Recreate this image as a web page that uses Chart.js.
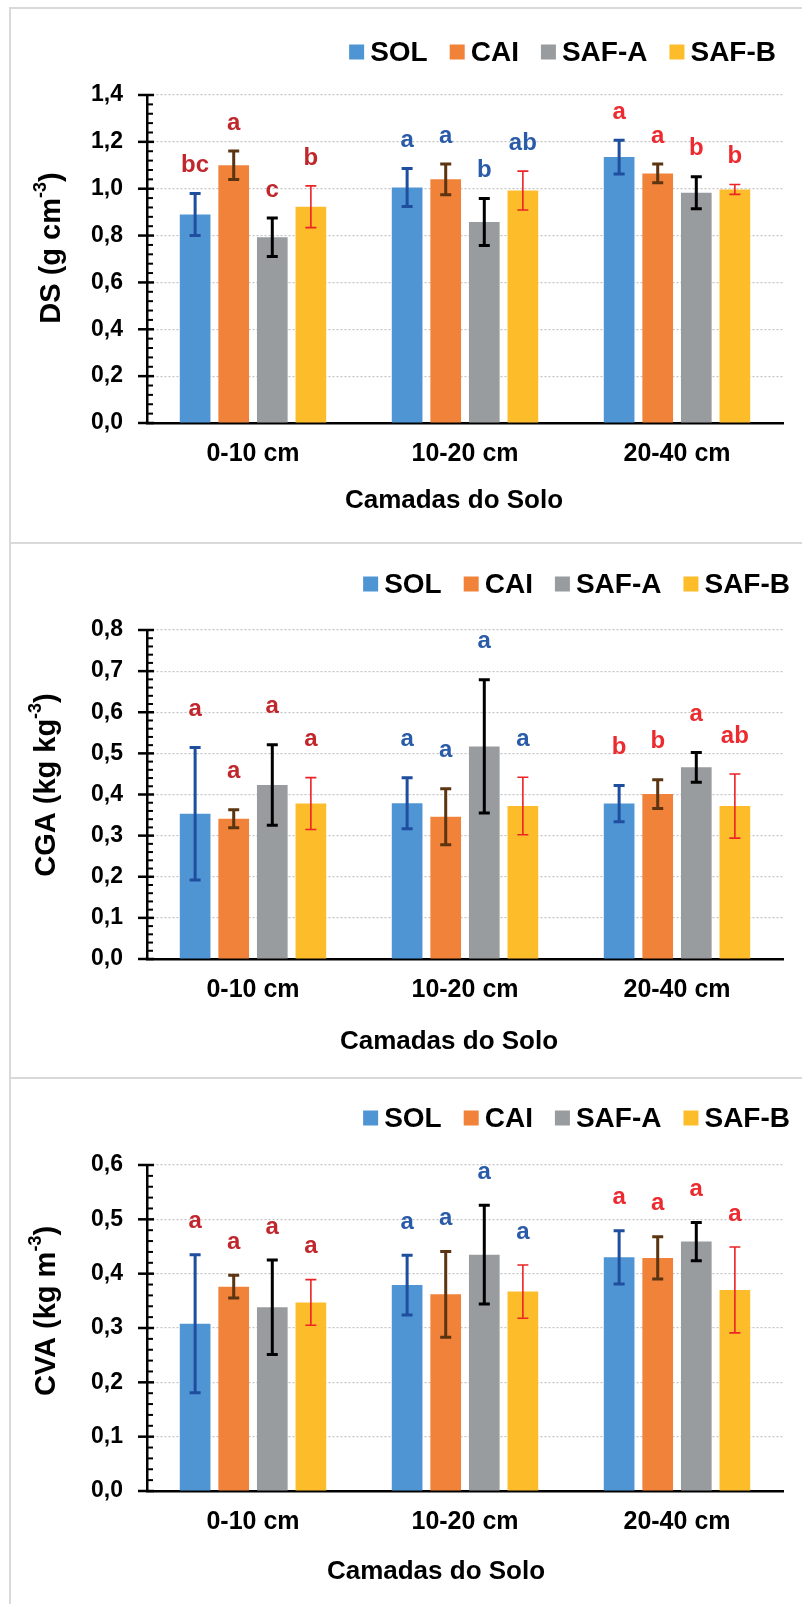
<!DOCTYPE html>
<html>
<head>
<meta charset="utf-8">
<script src="https://cdn.jsdelivr.net/npm/chart.js@4"></script>
<style>
  body { margin: 0; background: #fff; }
  #wrap { position: relative; width: 802px; height: 1604px; overflow: hidden; }
  .line { position: absolute; background: #d9d9d9; }
  canvas { position: absolute; left: 0; }
</style>
</head>
<body>
<div id="wrap">
  <div class="line" style="left:9px;top:7px;width:793px;height:2px"></div>
  <div class="line" style="left:9px;top:7px;width:2px;height:1597px"></div>
  <div class="line" style="left:9px;top:542px;width:793px;height:2px"></div>
  <div class="line" style="left:9px;top:1077px;width:793px;height:2px"></div>
  <canvas id="chartDS"  width="802" height="532" style="top:10px"></canvas>
  <canvas id="chartCGA" width="802" height="532" style="top:545px"></canvas>
  <canvas id="chartCVA" width="802" height="524" style="top:1080px"></canvas>
</div>

<script>
// camadas e sistemas
const layers  = ['0-10 cm', '10-20 cm', '20-40 cm'];
const systems = ['SOL', 'CAI', 'SAF-A', 'SAF-B'];

// DS (g cm-3) — médias, desvio e letras (SOL, CAI, SAF-A, SAF-B)
const dsMean    = [[0.890, 1.005, 1.135], [1.100, 1.040, 1.065], [0.793, 0.858, 0.983], [0.923, 0.992, 0.997]];
const dsErr     = [[0.090, 0.081, 0.072], [0.061, 0.066, 0.040], [0.082, 0.100, 0.068], [0.089, 0.083, 0.021]];
const dsLetters = [['bc', 'a', 'a'], ['a', 'a', 'a'], ['c', 'b', 'b'], ['b', 'ab', 'b']];
const dsTicks   = [0, 0.2, 0.4, 0.6, 0.8, 1.0, 1.2, 1.4];

// CGA (kg kg-3)
const cgaMean    = [[0.353, 0.379, 0.378], [0.341, 0.346, 0.401], [0.423, 0.517, 0.466], [0.378, 0.372, 0.372]];
const cgaErr     = [[0.161, 0.062, 0.044], [0.022, 0.068, 0.035], [0.098, 0.162, 0.036], [0.063, 0.070, 0.078]];
const cgaLetters = [['a', 'a', 'b'], ['a', 'a', 'b'], ['a', 'a', 'a'], ['a', 'a', 'ab']];
const cgaTicks   = [0, 0.1, 0.2, 0.3, 0.4, 0.5, 0.6, 0.7, 0.8];

// CVA (kg m-3)
const cvaMean    = [[0.308, 0.379, 0.430], [0.376, 0.362, 0.429], [0.338, 0.435, 0.459], [0.347, 0.367, 0.370]];
const cvaErr     = [[0.127, 0.055, 0.049], [0.021, 0.079, 0.039], [0.087, 0.091, 0.035], [0.042, 0.049, 0.079]];
const cvaLetters = [['a', 'a', 'a'], ['a', 'a', 'a'], ['a', 'a', 'a'], ['a', 'a', 'a']];
const cvaTicks   = [0, 0.1, 0.2, 0.3, 0.4, 0.5, 0.6];

// cores
const barColors    = ['#4f95d3', '#f0823a', '#999c9e', '#fdbd2a'];
const errColors    = ['#1f4e9f', '#5b3411', '#000000', '#ec2327'];
const errWidths    = [3, 3, 3, 1.6];
const letterColors = ['#c0272d', '#2a5ba8', '#eb2b30'];

const FONT = "'Liberation Sans', Arial, sans-serif";
const PLOT_LEFT = 147, PLOT_TOP = 85, PLOT_RIGHT = 783;

const fmt = v => v.toFixed(1).replace('.', ',');

// desenha legenda, barras de erro, letras, marcas do eixo y e títulos
function panelPlugin(p) {
    return {
        id: 'panel',
        afterDatasetsDraw(chart) {
            const ctx = chart.ctx;
            const y = chart.scales.y;
            const area = chart.chartArea;

            // marcas do eixo y (principais cruzam o eixo, secundárias para dentro)
            ctx.save();
            ctx.strokeStyle = '#000';
            const vals = p.ticks;
            for (let k = 0; k < vals.length; k++) {
                const py = y.getPixelForValue(vals[k]);
                ctx.lineWidth = 2.5;
                ctx.beginPath();
                ctx.moveTo(area.left - 9, py);
                ctx.lineTo(area.left + 7, py);
                ctx.stroke();
                if (k < vals.length - 1) {
                    const step = (vals[k + 1] - vals[k]) / 5;
                    ctx.lineWidth = 2;
                    for (let m = 1; m < 5; m++) {
                        const my = y.getPixelForValue(vals[k] + step * m);
                        ctx.beginPath();
                        ctx.moveTo(area.left, my);
                        ctx.lineTo(area.left + 6, my);
                        ctx.stroke();
                    }
                }
            }
            ctx.restore();

            // barras de erro e letras
            chart.data.datasets.forEach((ds, d) => {
                const meta = chart.getDatasetMeta(d);
                meta.data.forEach((bar, i) => {
                    const v = ds.data[i], e = p.errors[d][i];
                    const yTop = y.getPixelForValue(v + e);
                    const yBot = y.getPixelForValue(v - e);
                    ctx.save();
                    ctx.strokeStyle = errColors[d];
                    ctx.lineWidth = errWidths[d];
                    ctx.beginPath();
                    ctx.moveTo(bar.x, yTop); ctx.lineTo(bar.x, yBot);
                    ctx.moveTo(bar.x - 5.5, yTop); ctx.lineTo(bar.x + 5.5, yTop);
                    ctx.moveTo(bar.x - 5.5, yBot); ctx.lineTo(bar.x + 5.5, yBot);
                    ctx.stroke();

                    ctx.fillStyle = letterColors[i];
                    ctx.font = 'bold 24px ' + FONT;
                    ctx.textAlign = 'center';
                    ctx.textBaseline = 'middle';
                    ctx.fillText(p.letters[d][i], bar.x, yTop - p.letterGap);
                    ctx.restore();
                });
            });

            // legenda
            ctx.save();
            ctx.font = 'bold 28px ' + FONT;
            ctx.textBaseline = 'middle';
            ctx.textAlign = 'left';
            const widths = systems.map(s => ctx.measureText(s).width);
            const total = widths.reduce((a, w) => a + 15 + 6 + w, 0) + 22 * (systems.length - 1);
            let x = p.legendRight - total;
            systems.forEach((s, i) => {
                ctx.fillStyle = barColors[i];
                ctx.fillRect(x, p.legendY - 7.5, 15, 15);
                ctx.fillStyle = '#000';
                ctx.fillText(s, x + 21, p.legendY + 1);
                x += 21 + widths[i] + 22;
            });
            ctx.restore();

            // título do eixo y (com expoente)
            ctx.save();
            ctx.translate(p.yTitleX, p.yTitleY);
            ctx.rotate(-Math.PI / 2);
            ctx.fillStyle = '#000';
            ctx.textBaseline = 'middle';
            ctx.textAlign = 'left';
            const big = 'bold 29px ' + FONT, small = 'bold 18px ' + FONT;
            ctx.font = big;   const w1 = ctx.measureText(p.yTitle[0]).width;
            ctx.font = small; const w2 = ctx.measureText(p.yTitle[1]).width;
            ctx.font = big;   const w3 = ctx.measureText(p.yTitle[2]).width;
            let tx = -(w1 + w2 + w3) / 2;
            ctx.font = big;   ctx.fillText(p.yTitle[0], tx, 0); tx += w1;
            ctx.font = small; ctx.fillText(p.yTitle[1], tx, -11); tx += w2;
            ctx.font = big;   ctx.fillText(p.yTitle[2], tx, 0);
            ctx.restore();

            // título do eixo x
            ctx.save();
            ctx.fillStyle = '#000';
            ctx.font = 'bold 26px ' + FONT;
            ctx.textAlign = 'center';
            ctx.textBaseline = 'middle';
            ctx.fillText('Camadas do Solo', p.xTitleX, p.xTitleY);
            ctx.restore();
        }
    };
}

function makeChart(id, means, p) {
    const canvas = document.getElementById(id);
    const plotBottom = p.plotBottom;
    return new Chart(canvas, {
        type: 'bar',
        data: {
            labels: layers,
            datasets: systems.map((s, i) => ({
                label: s,
                data: means[i],
                backgroundColor: barColors[i],
                borderWidth: 0,
                barPercentage: 0.795,
                categoryPercentage: 0.728,
            }))
        },
        options: {
            responsive: false,
            animation: false,
            layout: { padding: { top: PLOT_TOP, left: 0, right: 802 - PLOT_RIGHT, bottom: 0 } },
            plugins: { legend: { display: false }, tooltip: { enabled: false } },
            scales: {
                x: {
                    grid: { display: false, drawTicks: false },
                    border: { display: true, color: '#000', width: 2.5 },
                    ticks: { color: '#000', padding: 16, font: { family: FONT, size: 25, weight: 'bold' } },
                    afterFit(s) { s.height = canvas.height - plotBottom; }
                },
                y: {
                    min: 0,
                    max: p.ticks[p.ticks.length - 1],
                    grid: { color: '#c4c4c4', lineWidth: 1.2, drawTicks: false },
                    border: { display: true, color: '#000', width: 2.5, dash: [2, 2] },
                    ticks: {
                        color: '#000', padding: 24,
                        font: { family: FONT, size: 23, weight: 'bold' },
                        callback: v => fmt(v)
                    },
                    afterBuildTicks(s) { s.ticks = p.ticks.map(v => ({ value: v })); },
                    afterFit(s) { s.width = PLOT_LEFT; }
                }
            }
        },
        plugins: [panelPlugin(p)]
    });
}

makeChart('chartDS', dsMean, {
    ticks: dsTicks, errors: dsErr, letters: dsLetters, letterGap: 28,
    plotBottom: 413, legendRight: 776, legendY: 42,
    yTitle: ['DS (g cm', '-3', ')'], yTitleX: 52, yTitleY: 238,
    xTitleX: 454, xTitleY: 491
});

makeChart('chartCGA', cgaMean, {
    ticks: cgaTicks, errors: cgaErr, letters: cgaLetters, letterGap: 38,
    plotBottom: 414, legendRight: 790, legendY: 39,
    yTitle: ['CGA (kg kg', '-3', ')'], yTitleX: 47, yTitleY: 240,
    xTitleX: 449, xTitleY: 497
});

makeChart('chartCVA', cvaMean, {
    ticks: cvaTicks, errors: cvaErr, letters: cvaLetters, letterGap: 33,
    plotBottom: 411, legendRight: 790, legendY: 38,
    yTitle: ['CVA (kg m', '-3', ')'], yTitleX: 47, yTitleY: 231,
    xTitleX: 436, xTitleY: 492
});
</script>
</body>
</html>
